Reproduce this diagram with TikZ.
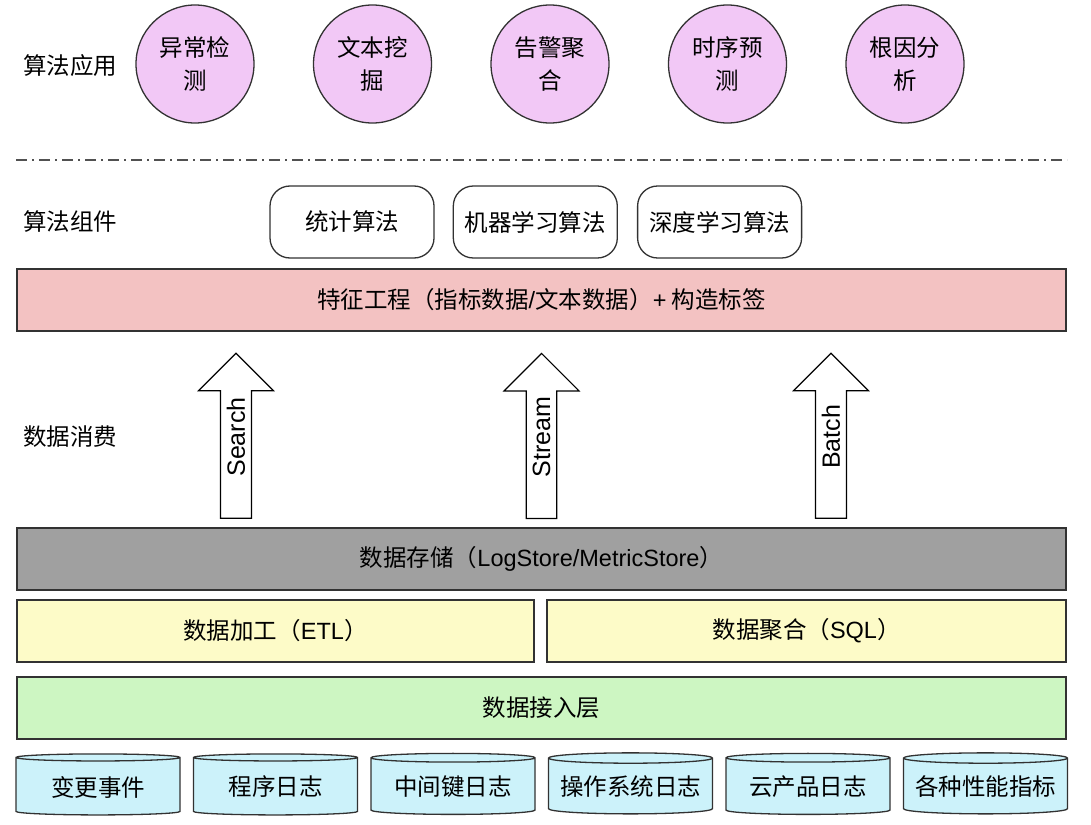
\documentclass[tikz,border=0pt]{standalone}
\usepackage{fontspec}
\setmainfont{Noto Sans CJK SC}
\newfontfamily\latinfont{Liberation Sans}
\usetikzlibrary{shapes.geometric,shapes.arrows,positioning}

\definecolor{appviolet}{RGB}{242,200,246}
\definecolor{featpink}{RGB}{243,194,194}
\definecolor{storegray}{RGB}{160,160,160}
\definecolor{etlyellow}{RGB}{253,251,200}
\definecolor{ingestgreen}{RGB}{205,246,194}
\definecolor{sourcecyan}{RGB}{204,242,250}
\definecolor{edgegray}{RGB}{50,50,50}

\tikzstyle{cjk} = [font=\fontsize{23.5}{33}\selectfont]
\tikzstyle{layerlabel} = [cjk]
\tikzstyle{app} = [circle, cjk, align=center, minimum size=118pt, inner sep=0pt, draw=edgegray, line width=1.3pt, fill=appviolet]
\tikzstyle{algo} = [rectangle, cjk, rounded corners=20pt, minimum width=164pt, minimum height=72pt, draw=edgegray, line width=1.3pt, fill=white]
\tikzstyle{bar} = [rectangle, cjk, minimum height=62pt, draw=edgegray, line width=1.5pt]
\tikzstyle{source} = [cylinder, cjk, shape border rotate=90, aspect=0.07, minimum width=164pt, minimum height=61pt, draw=edgegray, line width=1.3pt, fill=sourcecyan]
\tikzstyle{pipe} = [single arrow, rotate=90, draw=black, line width=1.2pt, fill=white, minimum height=165pt, minimum width=75pt, single arrow head extend=18.75pt, font=\latinfont\fontsize{25}{28}\selectfont]
\tikzstyle{divider} = [line width=2pt, draw=edgegray!85, dash pattern=on 11pt off 5pt on 2pt off 5pt]

\begin{document}
\begin{tikzpicture}[x=1pt, y=-1pt, node distance=177.5pt]
  \useasboundingbox (0,0) rectangle (1091,824);

  % layer names
  \node (lblapp) [layerlabel] at (70,66) {算法应用};
  \node (lblalgo) [layerlabel] at (70,222) {算法组件};
  \node (lblconsume) [layerlabel] at (70,437) {数据消费};

  % applications
  \node (anomaly) [app] at (195,64) {异常检\\测};
  \node (textmine) [app, right of=anomaly] {文本挖\\掘};
  \node (alertagg) [app, right of=textmine] {告警聚\\合};
  \node (forecast) [app, right of=alertagg] {时序预\\测};
  \node (rootcause) [app, right of=forecast] {根因分\\析};

  \coordinate (divl) at (16,160);
  \coordinate (divr) at (1067,160);
  \draw [divider] (divl) -- (divr);

  % algorithm components
  \node (stat) [algo] at (352,222) {统计算法};
  \node (ml) [algo, right=18pt of stat] {机器学习算法};
  \node (dl) [algo, right=19pt of ml] {深度学习算法};

  \node (feature) [bar, fill=featpink, minimum width=1049pt] at (541.5,300) {特征工程（指标数据{\latinfont /}文本数据）{\latinfont +} 构造标签};

  % consumption
  \node (search) [pipe] at (236,443.5) {\hspace*{13pt}Search};
  \node (stream) [pipe] at (541.5,443.5) {\hspace*{13pt}Stream};
  \node (batch) [pipe] at (831,443.5) {\hspace*{13pt}Batch};

  % storage and processing
  \node (store) [bar, fill=storegray, minimum width=1049pt] at (541.5,559) {数据存储（{\latinfont LogStore/MetricStore}）};
  \node (etl) [bar, fill=etlyellow, minimum width=517pt] at (275.5,631) {数据加工（{\latinfont ETL}）};
  \node (sqlagg) [bar, fill=etlyellow, minimum width=519pt] at (806.5,631) {数据聚合（{\latinfont SQL}）};
  \node (ingest) [bar, fill=ingestgreen, minimum width=1049pt] at (541.5,708) {数据接入层};

  % sources
  \node (changes) [source] at (98,787) {变更事件};
  \node (applog) [source, right of=changes] {程序日志};
  \node (mwlog) [source, right of=applog] {中间键日志};
  \node (oslog) [source, right of=mwlog] {操作系统日志};
  \node (cloudlog) [source, right of=oslog] {云产品日志};
  \node (perf) [source, right of=cloudlog] {各种性能指标};
\end{tikzpicture}
\end{document}
